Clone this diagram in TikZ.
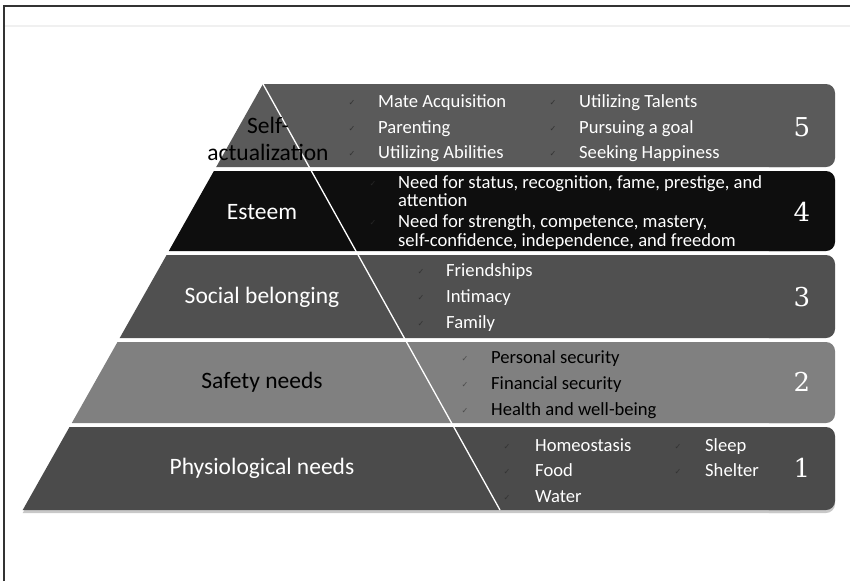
\documentclass[tikz,border=0pt]{standalone}
\usepackage{fontspec}
\setmainfont{Carlito}
\newfontfamily\numfont{DejaVu Serif}
\newfontfamily\symfont{DejaVu Sans}
\definecolor{lvA}{RGB}{75,75,75}
\definecolor{lvB}{RGB}{128,128,128}
\definecolor{lvC}{RGB}{80,80,80}
\definecolor{lvD}{RGB}{14,14,14}
\definecolor{lvE}{RGB}{90,90,90}
\definecolor{rim}{RGB}{200,200,200}
% one level of the pyramid: slanted left part plus rounded right end
\newcommand{\pyrband}[5]{%
  \fill[#5] (#3,#1) -- (800,#1) -- (800,#2) -- (#4,#2) -- cycle;
  \fill[#5,rounded corners=9pt] (760,#1) rectangle (835,#2);}
\begin{document}
\begin{tikzpicture}[x=1pt,y=-1pt,
  lvl/.style={font=\fontsize{23.5}{28}\selectfont, text=#1, anchor=center, inner sep=0pt},
  lvl/.default=white,
  item/.style={font=\fontsize{18.6}{22}\selectfont, text=#1, anchor=mid west, inner sep=0pt},
  item/.default=white,
  chk/.style={font=\symfont\fontsize{8}{9}\selectfont, text=#1, anchor=center, inner sep=0pt},
  chk/.default={black!80},
  num/.style={font=\numfont\fontsize{26}{30}\selectfont, text=white, anchor=center, inner sep=0pt}]
\useasboundingbox (0,0) rectangle (850,581);
% page frame and header rule
\draw[line width=2pt, black!80] (4,581) -- (4,6) -- (850,6);
\draw[line width=1.5pt, black!6] (5,26) -- (850,26);

% light rim under the base level
\begin{scope}[yshift=-3pt]
  \pyrband{427}{510}{69.5}{22.7}{rim}
\end{scope}

% the five levels
\pyrband{84}{167}{263}{216.2}{lvE}
\pyrband{171}{251}{213.9}{168.8}{lvD}
\pyrband{255}{338}{166.6}{119.7}{lvC}
\pyrband{342}{423}{117.5}{71.8}{lvB}
\pyrband{427}{510}{69.5}{22.7}{lvA}

% white split between labels and lists
\coordinate (apex) at (263,84);
\coordinate (foot) at (500,510);
\draw[white, line width=1.3pt] (apex) -- (foot);

% level names
\node[lvl=black] (selfA) at (268,125) {Self-};
\node[lvl=black] (selfB) at (268,152) {actualization};
\node[lvl] (esteem) at (262,212) {Esteem};
\node[lvl] (social) at (262,297) {Social belonging};
\node[lvl=black] (safety) at (262,382) {Safety needs};
\node[lvl] (physio) at (262,468) {Physiological needs};

% level numbers
\node[num] (n5) at (802,127) {5};
\node[num] (n4) at (802,212) {4};
\node[num] (n3) at (802,297) {3};
\node[num] (n2) at (802,382) {2};
\node[num] (n1) at (802,468) {1};

% level 5
\node[chk] (c5a) at (352,103) {✓};
\node[chk] (c5b) at (352,129) {✓};
\node[chk] (c5c) at (352,154) {✓};
\node[item] (t5a) at (378,105) {Mate Acquisition};
\node[item] (t5b) at (378,131) {Parenting};
\node[item] (t5c) at (378,156) {Utilizing Abilities};
\node[chk] (c5d) at (553,103) {✓};
\node[chk] (c5e) at (553,129) {✓};
\node[chk] (c5f) at (553,154) {✓};
\node[item] (t5d) at (579,105) {Utilizing Talents};
\node[item] (t5e) at (579,131) {Pursuing a goal};
\node[item] (t5f) at (579,156) {Seeking Happiness};

% level 4
\node[chk=black!85] (c4a) at (373,184) {✓};
\node[chk=black!85] (c4b) at (373,223) {✓};
\node[item] (t4a) at (398,186) {Need for status, recognition, fame, prestige, and};
\node[item] (t4b) at (398,204) {attention};
\node[item] (t4c) at (398,225) {Need for strength, competence, mastery,};
\node[item] (t4d) at (398,244) {self-confidence, independence, and freedom};

% level 3
\node[chk] (c3a) at (421,272) {✓};
\node[chk] (c3b) at (421,298) {✓};
\node[chk] (c3c) at (421,324) {✓};
\node[item] (t3a) at (446,274) {Friendships};
\node[item] (t3b) at (446,300) {Intimacy};
\node[item] (t3c) at (446,326) {Family};

% level 2
\node[chk=black!70] (c2a) at (465,359) {✓};
\node[chk=black!70] (c2b) at (465,385) {✓};
\node[chk=black!70] (c2c) at (465,411) {✓};
\node[item=black] (t2a) at (491,361) {Personal security};
\node[item=black] (t2b) at (491,387) {Financial security};
\node[item=black] (t2c) at (491,413) {Health and well-being};

% level 1
\node[chk] (c1a) at (507,447) {✓};
\node[chk] (c1b) at (507,472) {✓};
\node[chk] (c1c) at (507,498) {✓};
\node[item] (t1a) at (535,449) {Homeostasis};
\node[item] (t1b) at (535,474) {Food};
\node[item] (t1c) at (535,500) {Water};
\node[chk] (c1d) at (678,447) {✓};
\node[chk] (c1e) at (678,472) {✓};
\node[item] (t1d) at (705,449) {Sleep};
\node[item] (t1e) at (705,474) {Shelter};
\end{tikzpicture}
\end{document}
